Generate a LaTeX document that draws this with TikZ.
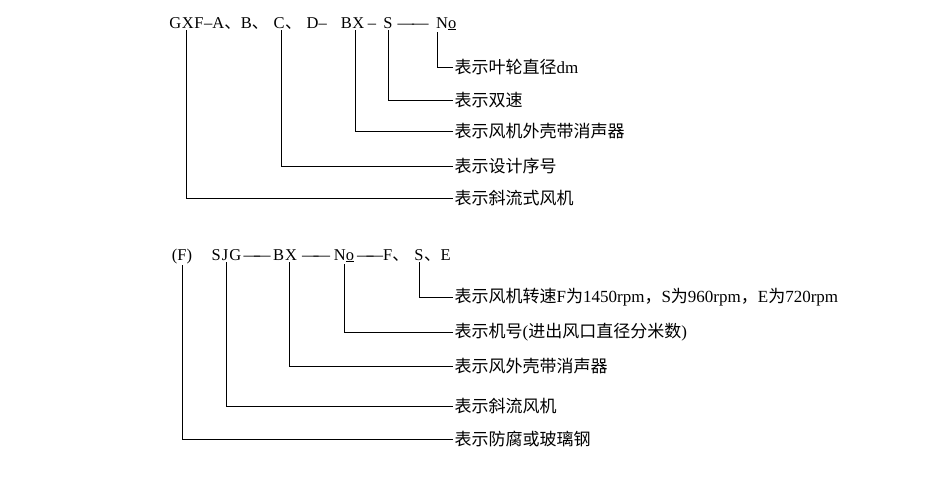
\documentclass[tikz,border=0pt]{standalone}
\usepackage{fontspec}
\setmainfont{Liberation Serif}
\newfontfamily\cjk{Noto Sans CJK SC}
\usetikzlibrary{positioning}

\begin{document}
\begin{tikzpicture}[
    x=1pt,y=-1pt,
    code/.style={font=\fontsize{16.5}{18}\selectfont,inner sep=1.5pt,anchor=base},
    sep/.style={code,anchor=base west},
    lbl/.style={font=\fontsize{17}{19}\selectfont,inner sep=1.5pt,anchor=west},
    lead/.style={line width=0.7pt}
  ]
    \useasboundingbox (0,0) rectangle (929,485);
    % GXF code
    \node[code] (gxf) at (186.5,28) {G\kern0.5pt X\kern0.5pt F};
    \node[sep] (sepab) at (202.5,28) {–A{\cjk 、}B{\cjk 、}};
    \node[code] (c) at (279,28) {C};
    \node[sep] (sepd) at (283.5,28) {{\cjk 、}\kern5pt D–};
    \node[code] (bx) at (352.5,28) {B\kern0.5pt X};
    \node[code] (sepe) at (372,28) {–};
    \node[code] (s) at (388,28) {S};
    \node[code] (sepf) at (413,28) {—\kern-2pt—};
    \node[sep] (no) at (434.5,28) {N\underline{o}};
    \node[lbl] (lbno) at (453,67) {{\cjk 表示叶轮直径}dm};
    \node[lbl] (lbs) at (453,100) {\cjk 表示双速};
    \node[lbl] (lbbx) at (453,131) {\cjk 表示风机外壳带消声器};
    \node[lbl] (lbc) at (453,166) {\cjk 表示设计序号};
    \node[lbl] (lbgxf) at (453,198) {\cjk 表示斜流式风机};
    \draw[lead] (lbno.west) -| ([xshift=2.5pt]no.south west);
    \draw[lead] (lbs.west) -| (s.south);
    \draw[lead] (lbbx.west) -| ([xshift=2.5pt]bx.south);
    \draw[lead] (lbc.west) -| ([xshift=2pt]c.south);
    \draw[lead] (lbgxf.west) -| (gxf.south);
    % SJG code
    \node[code] (f) at (182,260) {(F)};
    \node[code] (sjg) at (226.5,260) {S\kern1pt J\kern1pt G};
    \node[code] (sepg) at (257,260) {—\kern-6pt—};
    \node[code] (bx2) at (285,260) {B\kern1pt X};
    \node[code] (seph) at (316,260) {—\kern-5pt—};
    \node[code] (no2) at (344,260) {N\underline{o}};
    \node[code] (sepi) at (370,260) {—\kern-7pt—};
    \node[sep] (fs) at (381.5,260) {F{\cjk 、}};
    \node[code] (s2) at (419,260) {S};
    \node[sep] (sepj) at (422.5,260) {{\cjk 、}E};
    \node[lbl] (lbspeed) at (453,297) {{\cjk 表示风机转速}F{\cjk 为}1450rpm{\cjk ，}S{\cjk 为}960rpm{\cjk ，}E{\cjk 为}720rpm};
    \node[lbl] (lbno2) at (453,332) {{\cjk 表示机号}({\cjk 进出风口直径分米数})};
    \node[lbl] (lbbx2) at (453,366) {\cjk 表示风外壳带消声器};
    \node[lbl] (lbsjg) at (453,406) {\cjk 表示斜流风机};
    \node[lbl] (lbf) at (453,439) {\cjk 表示防腐或玻璃钢};
    \draw[lead] (lbspeed.west) -| (s2.south);
    \draw[lead] (lbno2.west) -| (no2.south);
    \draw[lead] (lbbx2.west) -| ([xshift=4pt]bx2.south);
    \draw[lead] (lbsjg.west) -| (sjg.south);
    \draw[lead] (lbf.west) -| (f.south);
  \end{tikzpicture}
\end{document}
